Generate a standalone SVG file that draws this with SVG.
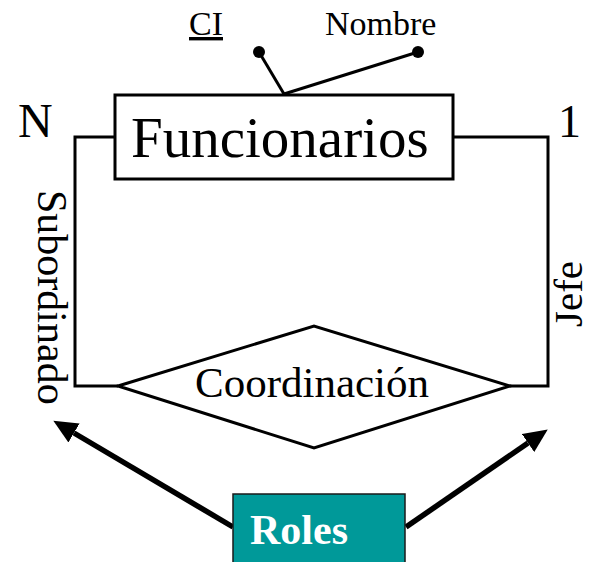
<svg xmlns="http://www.w3.org/2000/svg" width="592" height="562" viewBox="0 0 592 562">
  <style>
    .t { font-family: "Liberation Serif", "Times New Roman", serif; fill: #000; }
    .shape { fill: #fff; stroke: #000; stroke-width: 3; }
    .conn { fill: none; stroke: #000; stroke-width: 3; }
    .attr { fill: none; stroke: #000; stroke-width: 3; }
    .dot { fill: #000; }
    .arrow { fill: none; stroke: #000; stroke-width: 5.5; }
  </style>
  <defs>
    <marker id="ah" markerUnits="userSpaceOnUse" viewBox="0 0 24 22" markerWidth="24" markerHeight="22" refX="0" refY="11" orient="auto">
      <path d="M0,0 L24,11 L0,22 z" fill="#000"/>
    </marker>
  </defs>
  <rect width="592" height="562" fill="#fff"/>

  <g id="connectors">
    <polyline class="conn" points="115,137 75,137 75,386 118,386"/>
    <polyline class="conn" points="453,137 548,137 548,386 510,386"/>
    <line class="attr" x1="284" y1="94" x2="259" y2="52"/>
    <line class="attr" x1="284" y1="94" x2="418" y2="52"/>
    <line class="arrow" x1="233" y1="527" x2="74" y2="433" marker-end="url(#ah)"/>
    <line class="arrow" x1="406" y1="527" x2="528" y2="443" marker-end="url(#ah)"/>
  </g>

  <g id="funcionarios">
    <rect class="shape" x="115" y="95" width="338" height="84"/>
    <text class="t" x="131" y="157" font-size="57">Funcionarios</text>
  </g>

  <g id="coordinacion">
    <polygon class="shape" points="118,386 314,326 510,386 314,448"/>
    <text class="t" x="195" y="397" font-size="43">Coordinación</text>
  </g>

  <g id="attr-ci">
    <circle class="dot" cx="259" cy="52" r="6"/>
    <text class="t" x="189" y="35" font-size="34" text-decoration="underline">CI</text>
  </g>

  <g id="attr-nombre">
    <circle class="dot" cx="418" cy="52" r="6"/>
    <text class="t" x="325" y="35" font-size="34">Nombre</text>
  </g>

  <g id="card-n">
    <text class="t" x="18" y="137" font-size="48">N</text>
  </g>
  <g id="card-1">
    <text class="t" x="558" y="137" font-size="46">1</text>
  </g>

  <g id="role-subordinado">
    <text class="t" transform="translate(38,190) rotate(90)" font-size="42">Subordinado</text>
  </g>
  <g id="role-jefe">
    <text class="t" transform="translate(582,327) rotate(-90)" font-size="41">Jefe</text>
  </g>

  <g id="roles">
    <rect x="233" y="494" width="172" height="80" fill="#009999" stroke="#1a1a1a" stroke-width="1.5"/>
    <text x="250" y="544" font-size="42" font-weight="bold" fill="#fff" font-family="'Liberation Serif', 'Times New Roman', serif">Roles</text>
  </g>
</svg>
